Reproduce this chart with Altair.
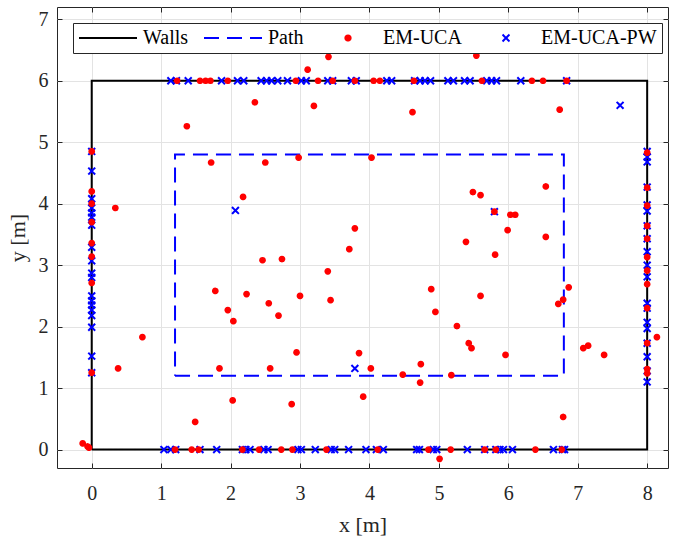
import altair as alt
import pandas as pd

FONT = "Liberation Serif, Times New Roman, serif"
TXT = "#262626"
GRID = "#e3e3e3"

names = ["Walls", "Path", "EM-UCA", "EM-UCA-PW"]

# walls and planned path (closed rectangles)
wall_x = [0, 8, 8, 0, 0]
wall_y = [0, 0, 6, 6, 0]
path_x = [1.2, 6.8, 6.8, 1.2, 1.2]
path_y = [1.2, 1.2, 4.8, 4.8, 1.2]

# EM-UCA estimates (red dots)
uca_left_y = [4.85, 4.20, 4.00, 3.70, 3.36, 3.14, 2.71, 1.25]
uca_right_y = [4.83, 4.26, 3.97, 3.64, 3.43, 3.13, 2.91, 2.69, 2.30, 1.73, 1.31, 1.24]
uca_top_x = [1.23, 1.56, 1.64, 1.71, 1.96, 2.94, 3.26, 3.47, 3.79, 4.06, 4.15, 4.64,
             5.62, 6.34, 6.50, 6.84]
uca_bottom_x = [1.20, 1.44, 1.54, 2.17, 2.41, 2.73, 2.89, 3.38, 4.12, 4.85, 5.17, 5.66,
                5.82, 6.39, 6.77]
uca_free_x = [3.11, 3.41, 5.54, 2.35, 3.20, 1.37, 4.62, 6.74, 1.72, 2.50, 2.98, 4.03,
              2.18, 5.49, 5.60, 6.54, 0.34, 3.79, 3.71, 2.46, 2.74, 3.40, 1.78, 2.23,
              3.00, 3.44, 1.96, 2.55, 2.69, 2.04, 0.73, 2.95, 3.85, 0.38, 1.84, 2.57,
              4.02, 5.80, 6.03, 6.10, 5.99, 6.54, 5.39, 5.81, 4.89, 5.60, 6.87, 6.79,
              6.72, 4.95, 5.26, 5.43, 5.47, 5.96, 7.08, 7.15, 7.38, 4.74, 4.48, 5.18,
              4.73, 3.91, 6.79, 5.01, 2.03, 1.49, 2.88, -0.13, -0.06, -0.04, 8.14]
uca_free_y = [6.18, 6.39, 6.41, 5.65, 5.59, 5.26, 5.49, 5.53, 4.67, 4.67, 4.75, 4.75,
              4.11, 4.19, 4.14, 4.28, 3.93, 3.60, 3.26, 3.08, 3.10, 2.90, 2.58, 2.53,
              2.50, 2.43, 2.27, 2.38, 2.18, 2.09, 1.83, 1.58, 1.57, 1.32, 1.32, 1.32,
              1.32, 3.87, 3.82, 3.82, 3.57, 3.46, 3.38, 3.17, 2.61, 2.50, 2.64, 2.44,
              2.37, 2.24, 2.01, 1.73, 1.65, 1.54, 1.65, 1.69, 1.54, 1.39, 1.22, 1.21,
              1.09, 0.86, 0.53, -0.15, 0.80, 0.45, 0.74, 0.10, 0.05, 0.03, 1.83]

# EM-UCA-PW estimates (blue crosses)
pw_left_y = [4.85, 4.53, 4.08, 3.93, 3.85, 3.78, 3.65, 3.29, 3.07, 2.87, 2.80, 2.50,
             2.42, 2.35, 2.27, 2.18, 1.99, 1.52, 1.25]
pw_right_y = [4.85, 4.76, 4.68, 4.27, 3.98, 3.88, 3.64, 3.43, 3.22, 3.00, 2.81, 2.38,
              2.30, 2.07, 1.97, 1.73, 1.51, 1.28, 1.10]
pw_top_x = [1.14, 1.22, 1.39, 1.87, 2.10, 2.19, 2.44, 2.52, 2.59, 2.68, 2.82, 3.02,
            3.09, 3.40, 3.47, 3.74, 3.81, 4.25, 4.32, 4.65, 4.73, 4.80, 4.88, 5.13,
            5.21, 5.37, 5.45, 5.69, 5.76, 5.83, 6.18, 6.84]
pw_bottom_x = [1.04, 1.14, 1.21, 1.56, 1.80, 2.17, 2.22, 2.28, 2.48, 2.54, 2.97, 3.02,
               3.22, 3.45, 3.50, 3.70, 3.95, 4.10, 4.20, 4.68, 4.72, 4.92, 4.97, 5.41,
               5.66, 5.82, 5.88, 5.93, 6.06, 6.65, 6.78, 6.81]
pw_free_x = [2.07, 3.79, 7.61, 5.80]
pw_free_y = [3.89, 1.32, 5.60, 3.87]

x_ticks = [0, 1, 2, 3, 4, 5, 6, 7, 8]
y_ticks = [0, 1, 2, 3, 4, 5, 6, 7]


def wall_points(left_y, right_y, top_x, bottom_x, free_x, free_y):
    xs = [0.0] * len(left_y) + [8.0] * len(right_y) + top_x + bottom_x + free_x
    ys = left_y + right_y + [6.0] * len(top_x) + [0.0] * len(bottom_x) + free_y
    return xs, ys


ux, uy = wall_points(uca_left_y, uca_right_y, uca_top_x, uca_bottom_x, uca_free_x, uca_free_y)
px, py = wall_points(pw_left_y, pw_right_y, pw_top_x, pw_bottom_x, pw_free_x, pw_free_y)

lines_df = pd.DataFrame({
    "x": wall_x + path_x,
    "y": wall_y + path_y,
    "series": [names[0]] * len(wall_x) + [names[1]] * len(path_x),
    "ord": list(range(len(wall_x))) + list(range(len(path_x))),
})
uca_df = pd.DataFrame({"x": ux, "y": uy, "series": names[2]})
pw_df = pd.DataFrame({"x": px, "y": py, "series": names[3]})

xs = alt.Scale(domain=[-0.5, 8.3], nice=False, zero=False)
ys = alt.Scale(domain=[-0.3, 7.2], nice=False, zero=False)

LEG = alt.Legend(
    title=None, orient="none", legendX=16, legendY=16, direction="horizontal",
    columns=4, fillColor="white", strokeColor=TXT, padding=5, columnPadding=14,
    labelFont=FONT, labelFontSize=20, labelColor="black", labelOffset=5,
    symbolStrokeWidth=2, clipHeight=20,
)

# symbol sizes follow an evenly spaced point scale (3364, 2251, 1138, 25);
# the custom symbol paths are scaled so each glyph gets its intended pixel size
LINE_SYM_A = "M-1,0L1,0"                      # 58 px line at size 3364
LINE_SYM_B = "M-1.2227,0L1.2227,0"            # 58 px line at size 2251
DOT_SYM = "M-0.155,0A0.155,0.155 0 1,0 0.155,0A0.155,0.155 0 1,0 -0.155,0Z"
X_SYM = "M-1.38,-1.38L1.38,1.38M-1.38,1.38L1.38,-1.38"

stroke_rng = ["#000000", "#0000ff", "#ff0000", "#0000ff"]
dash_rng = [[1, 0], [15, 8], [1, 0], [1, 0]]
shape_rng = [LINE_SYM_A, LINE_SYM_B, DOT_SYM, X_SYM]
fill_rng = ["transparent", "transparent", "#ff0000", "transparent"]


def enc(cls, rng, **kw):
    return cls("series:N", scale=alt.Scale(domain=names, range=rng, **kw), legend=LEG)


def inner_axis(orient, values):
    return alt.Axis(orient=orient, offset=-5, tickSize=5, tickColor=TXT, tickWidth=1,
                    labels=False, domain=False, grid=False, title=None, values=values)


main_x = alt.Axis(orient="bottom", values=x_ticks, tickSize=0, grid=True, gridColor=GRID,
                  domain=False, labelFont=FONT, labelFontSize=20, labelColor=TXT,
                  labelPadding=15, title="x [m]", titleFont=FONT, titleFontSize=22,
                  titleFontWeight="normal", titleColor=TXT, titleBaseline="alphabetic",
                  titleY=63)
main_y = alt.Axis(orient="left", values=y_ticks, tickSize=0, grid=True, gridColor=GRID,
                  domain=False, labelFont=FONT, labelFontSize=20, labelColor=TXT,
                  labelPadding=9, title="y [m]", titleFont=FONT, titleFontSize=22,
                  titleFontWeight="normal", titleColor=TXT, titleBaseline="alphabetic",
                  titleAlign="center", titleX=-33)

lines = alt.Chart(lines_df).mark_line(strokeWidth=2).encode(
    x=alt.X("x:Q", scale=xs, axis=main_x),
    y=alt.Y("y:Q", scale=ys, axis=main_y),
    detail="series:N",
    order=alt.Order("ord:Q"),
    stroke=enc(alt.Stroke, stroke_rng),
    strokeDash=enc(alt.StrokeDash, dash_rng),
)


def point_layer(df, xaxis, yaxis, sw):
    return alt.Chart(df).mark_point(opacity=1, strokeWidth=sw).encode(
        x=alt.X("x:Q", scale=xs, axis=xaxis),
        y=alt.Y("y:Q", scale=ys, axis=yaxis),
        stroke=enc(alt.Stroke, stroke_rng),
        fill=enc(alt.Fill, fill_rng),
        shape=enc(alt.Shape, shape_rng),
        size=enc(alt.Size, [3364, 25], type="point", padding=0),
        strokeDash=enc(alt.StrokeDash, dash_rng),
    )


pw_layer = point_layer(pw_df, inner_axis("top", x_ticks), inner_axis("right", y_ticks), 2)
uca_layer = point_layer(uca_df, inner_axis("bottom", x_ticks), inner_axis("left", y_ticks), 1.5)

chart = alt.layer(lines, pw_layer, uca_layer).resolve_axis(
    x="independent", y="independent"
).properties(
    width=611, height=461, autosize="none",
    padding={"left": 57, "top": 7, "right": 6, "bottom": 68},
    background="white",
).configure_view(stroke=TXT, strokeWidth=1)

chart.save("out.html", embed_options={"renderer": "svg", "actions": False})
